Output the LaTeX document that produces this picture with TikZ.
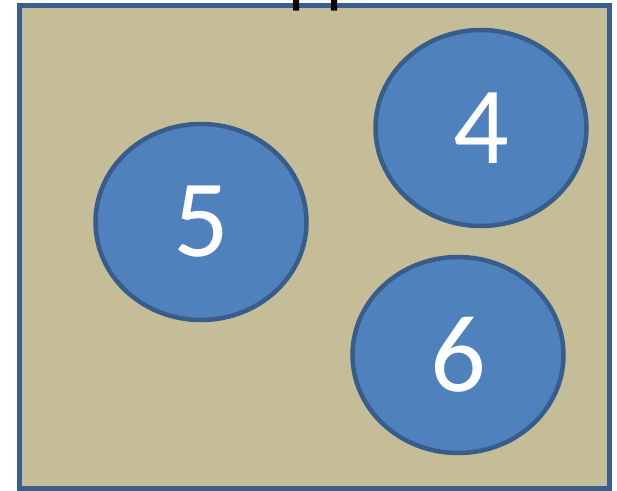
\documentclass[tikz,border=0pt]{standalone}
\usepackage{fontspec}
\setmainfont{Carlito}
\usetikzlibrary{shapes.geometric}
\definecolor{boxfill}{HTML}{C4BD97}
\definecolor{boxline}{HTML}{3B5E8C}
\definecolor{ellfill}{HTML}{4F81BD}
\definecolor{ellline}{HTML}{385D8A}
\begin{document}
\begin{tikzpicture}[x=1pt,y=-1pt,
  grp/.style={draw=boxline,fill=boxfill,line width=5pt},
  ell/.style={ellipse,draw=ellline,fill=ellfill,line width=4.5pt,minimum width=211pt,minimum height=196pt,inner sep=0pt,text=white,font=\fontsize{110}{110}\selectfont}]
\useasboundingbox (0,0) rectangle (617,490);
\draw[grp] (19.5,5.5) rectangle (609.5,488.5);
\node[anchor=base,font=\fontsize{72}{72}\selectfont,inner sep=0pt] (title) at (317.5,-0.3) {Gruppe B};
\node[ell] (n5) at (201,222) {5};
\node[ell] (n4) at (481,128) {4};
\node[ell] (n6) at (458,355) {6};
\end{tikzpicture}
\end{document}
